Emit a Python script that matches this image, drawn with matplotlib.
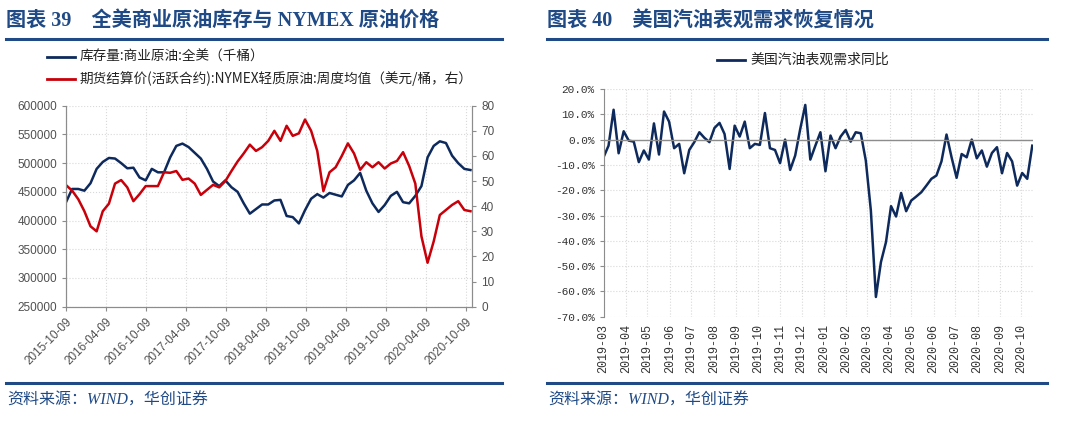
import matplotlib.pyplot as plt
from matplotlib.lines import Line2D
import pandas as pd

# ---- chart 39: inventory (thousand barrels) and NYMEX price, read every 4 weeks
inv_start = '2015-10-09'
inv_values = [432, 455, 455, 452, 465, 490, 502, 509, 508, 500, 491, 492, 475, 470,
              490, 484, 484, 510, 530, 534, 528, 518, 508, 490, 468, 460, 470, 458,
              450, 430, 412, 420, 428, 428, 435, 436, 408, 406, 395, 418, 438, 446,
              440, 448, 445, 442, 462, 470, 483, 452, 430, 415, 427, 443, 450, 432,
              430, 443, 460, 510, 530, 538, 535, 513, 500, 490, 488]
price_values = [48.4, 46.2, 42.8, 38.0, 32.0, 30.0, 38.0, 41.0, 49.0, 50.4, 47.5, 42.0,
                44.8, 48.0, 48.0, 48.0, 53.5, 53.3, 54.0, 50.5, 51.0, 49.0, 44.5, 46.5,
                48.5, 47.5, 50.0, 54.0, 57.8, 61.0, 64.5, 62.0, 63.5, 66.0, 70.0, 66.0,
                72.0, 68.0, 69.0, 74.5, 70.0, 62.0, 46.0, 53.5, 55.5, 60.0, 65.0, 61.0,
                54.5, 57.5, 55.5, 57.5, 55.0, 57.0, 58.0, 61.5, 56.0, 49.0, 28.0, 17.5,
                26.0, 36.5, 38.5, 40.5, 42.0, 38.5, 38.0]
left_ticks = ['2015-10-09', '2016-04-09', '2016-10-09', '2017-04-09', '2017-10-09',
              '2018-04-09', '2018-10-09', '2019-04-09', '2019-10-09', '2020-04-09',
              '2020-10-09']
inv_label = '库存量:商业原油:全美（千桶）'
price_label = '期货结算价(活跃合约):NYMEX轻质原油:周度均值（美元/桶，右）'

# ---- chart 40: US gasoline apparent demand yoy (%), weekly
gas_start = '2019-03-01'
gas_values = [-7.0, -2.4, 11.8, -5.4, 3.3, -0.4, -0.8, -8.9, -4.3, -7.9, 6.4, -5.9,
              11.1, 7.1, -3.4, -1.7, -13.3, -4.1, -1.0, 2.9, 0.7, -1.0, 4.6, 6.6,
              2.2, -11.6, 5.5, 1.2, 7.1, -3.4, -1.7, -2.1, 10.5, -3.4, -4.1, -9.3,
              0.0, -12.0, -6.3, 4.2, 13.7, -7.9, -2.4, 2.9, -12.5, 1.6, -3.4, 1.2,
              3.8, -0.8, 2.9, 2.5, -8.3, -28.0, -62.2, -48.4, -40.5, -26.3, -30.4, -21.1,
              -28.3, -24.1, -22.5, -20.8, -18.2, -15.5, -14.2, -8.6, 2.0, -7.0, -15.1, -5.7,
              -7.0, 0.0, -7.4, -4.3, -10.7, -5.3, -3.0, -13.3, -5.3, -8.6, -18.2, -13.2,
              -15.5, -2.4]
gas_label = '美国汽油表观需求同比'

NAVY = '#0E2A5C'
RED = '#C8000A'
RULE = '#1F4A86'
GREY = '#505050'
GRID = '#D9D9D9'
CJK = ['Noto Sans CJK SC', 'DejaVu Sans']
TITLE_FONT = ['Liberation Serif', 'Noto Sans CJK SC']

W, H = 1076, 421
fig = plt.figure(figsize=(W / 100, H / 100), dpi=100)


def px_axes(x0, y0, x1, y1):
    return fig.add_axes([x0 / W, 1 - y1 / H, (x1 - x0) / W, (y1 - y0) / H])


def header_footer(x0, x1, title):
    fig.text(x0 / W, 1 - 21 / H, title, color=RULE, fontsize=14.5, fontweight='bold',
             family=TITLE_FONT, va='center', ha='left')
    for y in (38.5, 383):
        fig.add_artist(Line2D([x0 / W, x1 / W], [1 - y / H, 1 - y / H],
                              color=RULE, lw=2.2))
    fig.text((x0 + 1) / W, 1 - 401 / H, '资料来源：WIND，华创证券', color=RULE,
             fontsize=11.5, style='italic', family=TITLE_FONT, va='center', ha='left')


# ================= left chart =================
header_footer(6, 502, '图表 39　全美商业原油库存与 NYMEX 原油价格')

inv_dates = pd.date_range(inv_start, periods=len(inv_values), freq='28D')
ax = px_axes(66, 105.7, 472, 306.7)
ax.plot(inv_dates, [v * 1000 for v in inv_values], color=NAVY, lw=1.8)
ax.set_ylim(250000, 600000)
ax.set_yticks(range(250000, 600001, 50000))
ax.set_xlim(pd.Timestamp('2015-10-09'), pd.Timestamp('2020-11-06'))
ax.set_xticks(pd.to_datetime(left_ticks))
ax.set_xticklabels(left_ticks, rotation=45, ha='right', rotation_mode='anchor')
ax.grid(True, color=GRID, ls=':', lw=0.8)
ax.set_axisbelow(True)

ax2 = ax.twinx()
ax2.plot(inv_dates, price_values, color=RED, lw=1.8)
ax2.set_ylim(0, 80)
ax2.set_yticks(range(0, 81, 10))

for a in (ax, ax2):
    a.spines['top'].set_visible(False)
    for s in ('left', 'right', 'bottom'):
        a.spines[s].set_color('#8C8C8C')
    a.tick_params(colors='#8C8C8C', labelcolor=GREY, labelsize=8.5, length=3)
    for lab in a.get_xticklabels() + a.get_yticklabels():
        lab.set_family('Liberation Sans')

for y, col, lab in ((57, NAVY, inv_label), (79, RED, price_label)):
    fig.add_artist(Line2D([47 / W, 75 / W], [1 - y / H, 1 - y / H], color=col, lw=2))
    fig.text(80 / W, 1 - y / H, lab, fontsize=9.8, family=CJK, color='#222222',
             va='center', ha='left')

# ================= right chart =================
header_footer(547, 1047, '图表 40　美国汽油表观需求恢复情况')

gas_dates = pd.date_range(gas_start, periods=len(gas_values), freq='7D')
bx = px_axes(603.5, 89, 1033, 316.7)
bx.plot(gas_dates, gas_values, color=NAVY, lw=1.8)
bx.axhline(0, color='#8C8C8C', lw=1)
bx.set_ylim(-70, 20)
yt = list(range(-70, 21, 10))
bx.set_yticks(yt)
bx.set_yticklabels([f'{v:.1f}%' for v in yt])
months = pd.date_range('2019-03-01', '2020-10-01', freq='MS')
bx.set_xticks(months)
bx.set_xticklabels([m.strftime('%Y-%m') for m in months], rotation=90, va='top')
bx.set_xlim(pd.Timestamp('2019-03-01'), gas_dates[-1] + pd.Timedelta(days=1))
bx.grid(True, color=GRID, ls=':', lw=0.8)
bx.set_axisbelow(True)
for s in ('top', 'right', 'bottom'):
    bx.spines[s].set_visible(False)
bx.spines['left'].set_color('#8C8C8C')
bx.tick_params(axis='y', colors='#8C8C8C', labelcolor='#333333', labelsize=8, length=3)
bx.tick_params(axis='x', colors='#8C8C8C', labelcolor='#333333', labelsize=8.5, length=0, pad=5)
for lab in bx.get_xticklabels() + bx.get_yticklabels():
    lab.set_family('Liberation Mono')

fig.add_artist(Line2D([717 / W, 745 / W], [1 - 60 / H, 1 - 60 / H], color=NAVY, lw=2))
fig.text(750 / W, 1 - 60 / H, gas_label, fontsize=10, family=CJK, color='#222222',
         va='center', ha='left')

fig.savefig('out.png', dpi=100)
